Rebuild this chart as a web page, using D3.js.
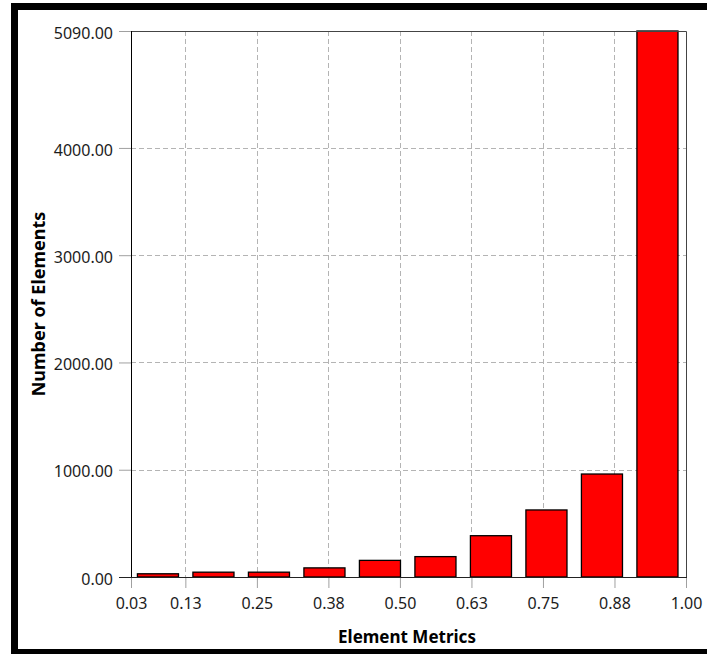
<!DOCTYPE html>
<html>
<head>
<meta charset="utf-8">
<script src="https://cdn.jsdelivr.net/npm/d3@7"></script>
<style>
  body { margin: 0; background: #fff; }
  svg { display: block; }
  .tick text { font-family: "Noto Sans", sans-serif; font-size: 16px; fill: #1c1c1c; }
  .title { font-family: "Noto Sans", sans-serif; font-size: 17px; font-weight: bold; fill: #000; }
</style>
</head>
<body>
<svg id="chart" width="707" height="654"></svg>
<script>
// histogram bins (lower edges) and counts
var binStarts = [0.03, 0.127, 0.224, 0.321, 0.418, 0.515, 0.612, 0.709, 0.806, 0.903];
var binWidth = 0.097;
var counts = [30, 45, 45, 85, 155, 190, 385, 625, 960, 5090];

var xTickValues = [0.03, 0.125, 0.25, 0.375, 0.5, 0.625, 0.75, 0.875, 1.0];
var xTickLabels = ["0.03", "0.13", "0.25", "0.38", "0.50", "0.63", "0.75", "0.88", "1.00"];
var yTickValues = [0, 1000, 2000, 3000, 4000, 5090];
var yTickLabels = ["0.00", "1000.00", "2000.00", "3000.00", "4000.00", "5090.00"];

var svg = d3.select("#chart");
var plotL = 131, plotR = 686, plotT = 31, plotB = 577;

var x = d3.scaleLinear().domain([0.03, 1.0]).range([plotL, plotR]);
var y = d3.scaleLinear().domain([0, 5090]).range([plotB, plotT]);

// outer frame
svg.append("rect")
  .attr("x", 14.5).attr("y", 6.5)
  .attr("width", 720).attr("height", 646)
  .attr("fill", "none").attr("stroke", "#000").attr("stroke-width", 7);

// grid
svg.append("g").selectAll("line")
  .data(xTickValues.slice(1, -1)).enter()
  .append("line")
  .attr("x1", function (d) { return Math.round(x(d)) + 0.5; })
  .attr("x2", function (d) { return Math.round(x(d)) + 0.5; })
  .attr("y1", plotT).attr("y2", plotB)
  .attr("stroke", "#b4b4b4").attr("stroke-dasharray", "5,3");

svg.append("g").selectAll("line")
  .data(yTickValues.slice(1, -1)).enter()
  .append("line")
  .attr("y1", function (d) { return Math.round(y(d)) + 0.5; })
  .attr("y2", function (d) { return Math.round(y(d)) + 0.5; })
  .attr("x1", plotL).attr("x2", plotR)
  .attr("stroke", "#b4b4b4").attr("stroke-dasharray", "5,3");

// bars
var barW = x(binWidth) - x(0);
svg.append("g").selectAll("rect")
  .data(counts).enter()
  .append("rect")
  .attr("x", function (d, i) { return x(binStarts[i] + binWidth / 2) - 0.8 - barW * 0.37; })
  .attr("width", barW * 0.74)
  .attr("y", function (d) { return y(d); })
  .attr("height", function (d) { return y(0) - y(d); })
  .attr("fill", "#ff0000")
  .attr("stroke", "#000").attr("stroke-width", 1.3);

// axes
var xAxis = d3.axisBottom(x)
  .tickValues(xTickValues)
  .tickFormat(function (d, i) { return xTickLabels[i]; })
  .tickSize(11).tickPadding(10);
var gx = svg.append("g").attr("transform", "translate(0," + plotB + ")").call(xAxis);
gx.select(".domain").remove();
gx.selectAll(".tick line").attr("stroke", "#a0a0a0");

var yAxis = d3.axisLeft(y)
  .tickValues(yTickValues)
  .tickFormat(function (d, i) { return yTickLabels[i]; })
  .tickSize(12).tickPadding(6);
var gy = svg.append("g").attr("transform", "translate(" + plotL + ",0)").call(yAxis);
gy.select(".domain").remove();
gy.selectAll(".tick line").attr("stroke", "#a0a0a0");
gy.selectAll(".tick text").attr("dy", "0.45em");

// plot frame
svg.append("path")
  .attr("d", "M" + (plotL + 0.5) + "," + (plotB + 0.5) + "V" + (plotT + 0.5) + "H" + (plotR + 0.5) + "V" + (plotB + 0.5))
  .attr("fill", "none").attr("stroke", "#444");
svg.append("line")
  .attr("x1", plotL + 0.5).attr("x2", plotL + 0.5).attr("y1", plotT).attr("y2", plotB + 1)
  .attr("stroke", "#000");
svg.append("line")
  .attr("x1", plotL - 12).attr("x2", plotR + 1).attr("y1", plotB + 0.5).attr("y2", plotB + 0.5)
  .attr("stroke", "#222");

// titles
svg.append("text").attr("class", "title")
  .attr("x", 407).attr("y", 643)
  .attr("text-anchor", "middle")
  .text("Element Metrics");
svg.append("text").attr("class", "title")
  .attr("transform", "translate(45,304) rotate(-90)")
  .attr("text-anchor", "middle")
  .style("font-size", "18px")
  .text("Number of Elements");
</script>
</body>
</html>
